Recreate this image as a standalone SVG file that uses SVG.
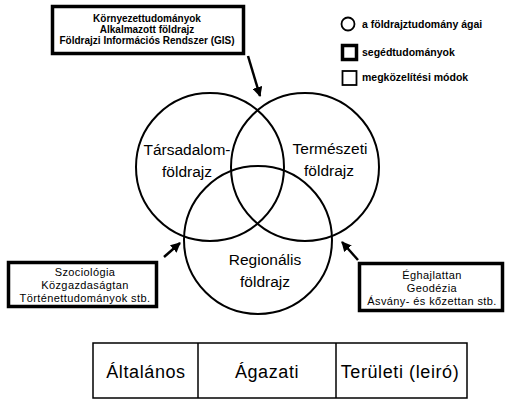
<svg xmlns="http://www.w3.org/2000/svg" width="506" height="405" viewBox="0 0 506 405">
<style>
.c{fill:none;stroke:#000;stroke-width:2}
.box{fill:#fff;stroke:#000;stroke-width:3.5}
.t{font-family:"Liberation Sans",Arial,sans-serif;fill:#000;text-anchor:middle}
.big{font-size:15.5px}
.sm{font-size:10px;font-weight:bold}
.md{font-size:11px;letter-spacing:0.4px}
.lg{font-size:10.5px;font-weight:bold;text-anchor:start}
.tb{font-size:18px;letter-spacing:0.6px}
.ar{stroke:#000;stroke-width:2.5;fill:none}
</style>
<defs>
<marker id="ah" viewBox="0 0 10 10" refX="9" refY="5" markerWidth="4" markerHeight="4" orient="auto" markerUnits="strokeWidth">
<path d="M0,0 L10,5 L0,10 z" fill="#000"/>
</marker>
</defs>
<rect width="506" height="405" fill="#fff"/>
<g id="circle-tarsadalom">
<circle class="c" cx="210" cy="167" r="74"/>
<text class="t big" x="187" y="155">Társadalom-</text>
<text class="t big" x="187" y="177">földrajz</text>
</g>
<g id="circle-termeszeti">
<circle class="c" cx="305" cy="167" r="74"/>
<text class="t big" x="330" y="154">Természeti</text>
<text class="t big" x="329" y="176">földrajz</text>
</g>
<g id="circle-regionalis">
<circle class="c" cx="258" cy="240" r="74"/>
<text class="t big" x="265" y="265">Regionális</text>
<text class="t big" x="265" y="287">földrajz</text>
</g>
<g id="box-top">
<rect class="box" x="52.5" y="6.5" width="191" height="47"/>
<text class="t sm" x="147" y="22">Környezettudományok</text>
<text class="t sm" x="147" y="32.5">Alkalmazott földrajz</text>
<text class="t sm" x="147" y="43.5">Földrajzi Információs Rendszer (GIS)</text>
</g>
<g id="box-left">
<rect class="box" x="8.5" y="262.5" width="148" height="44"/>
<text class="t md" x="85" y="276">Szociológia</text>
<text class="t md" x="85" y="289">Közgazdaságtan</text>
<text class="t md" x="85" y="301.5">Történettudományok stb.</text>
</g>
<g id="box-right">
<rect class="box" x="359.5" y="263.5" width="143" height="47"/>
<text class="t md" x="432" y="278.5">Éghajlattan</text>
<text class="t md" x="432" y="291.5">Geodézia</text>
<text class="t md" x="432" y="305">Ásvány- és kőzettan stb.</text>
</g>
<g id="legend">
<circle cx="348" cy="24" r="6.5" fill="none" stroke="#000" stroke-width="1.8"/>
<text class="t lg" x="362" y="28">a földrajztudomány ágai</text>
<rect x="342.5" y="45.5" width="14" height="14" fill="none" stroke="#000" stroke-width="3.5"/>
<text class="t lg" x="362" y="56">segédtudományok</text>
<rect x="342.5" y="71" width="14" height="14" fill="none" stroke="#000" stroke-width="1.8"/>
<text class="t lg" x="362" y="81">megközelítési módok</text>
</g>
<g id="table">
<rect x="93" y="343" width="374" height="55" fill="none" stroke="#000" stroke-width="1.5"/>
<line x1="198" y1="343" x2="198" y2="398" stroke="#000" stroke-width="1.5"/>
<line x1="336" y1="343" x2="336" y2="398" stroke="#000" stroke-width="1.5"/>
<text class="t tb" x="146" y="378">Általános</text>
<text class="t tb" x="267" y="378">Ágazati</text>
<text class="t tb" x="400" y="378">Területi (leiró)</text>
</g>
<g id="connectors">
<line class="ar" x1="248" y1="56" x2="260" y2="96" marker-end="url(#ah)"/>
<line class="ar" x1="164" y1="257" x2="180" y2="243" marker-end="url(#ah)"/>
<line class="ar" x1="358" y1="260" x2="342" y2="242" marker-end="url(#ah)"/>
</g>
</svg>
